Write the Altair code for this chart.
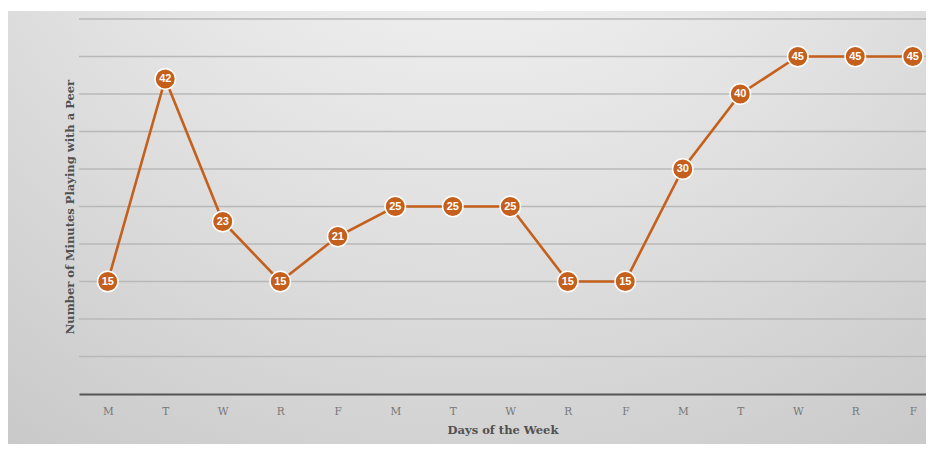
import altair as alt
import pandas as pd

days = ["M", "T", "W", "R", "F", "M", "T", "W", "R", "F", "M", "T", "W", "R", "F"]
minutes = [15, 42, 23, 15, 21, 25, 25, 25, 15, 15, 30, 40, 45, 45, 45]
grid_values = [5, 10, 15, 20, 25, 30, 35, 40, 45, 50]

df = pd.DataFrame({"idx": list(range(len(days))), "day": days, "minutes": minutes})
gdf = pd.DataFrame({"minutes": grid_values})

W, H = 847, 375
ORANGE = "#C5601C"
label_expr = "[" + ",".join("'%s'" % d for d in days) + "][datum.value]"

x_enc = alt.X("idx:Q", scale=alt.Scale(domain=[-0.5, 14.23], nice=False, zero=False),
              axis=alt.Axis(values=list(range(len(days))), labelExpr=label_expr, title="Days of the Week",
                            grid=False, ticks=False, domain=True, domainColor="#555555", domainWidth=2.2,
                            labelFont="DejaVu Serif", labelFontSize=10.5, labelColor="#777777",
                            labelPadding=12, titleFont="DejaVu Serif", titleFontSize=11.5,
                            titleFontWeight="bold", titleColor="#505050", titlePadding=8, zindex=1))
y_scale = alt.Scale(domain=[0, 50], nice=False)
y_axis = alt.Axis(labels=False, ticks=False, domain=False, grid=False,
                  title="Number of Minutes Playing with a Peer",
                  titleFont="DejaVu Serif", titleFontSize=11.5, titleFontWeight="bold",
                  titleColor="#505050", titlePadding=4, zindex=1)
y_enc = alt.Y("minutes:Q", scale=y_scale, axis=y_axis)

bg = alt.Chart(df).mark_rect(
    color=alt.Gradient(gradient="radial", x1=0.5, y1=0.0, r1=0.0, x2=0.5, y2=0.0, r2=1.0,
                       stops=[alt.GradientStop(offset=0, color="#fbfbfb"),
                              alt.GradientStop(offset=0.5, color="#e0e0e0"),
                              alt.GradientStop(offset=1, color="#c2c2c2")])
).encode(x=alt.value(-71), x2=alt.value(W + 10), y=alt.value(-8), y2=alt.value(H + 60))

grid = alt.Chart(gdf).mark_rule(color="#b8b8b8", strokeWidth=1.5).encode(
    y=y_enc, x=alt.value(0), x2=alt.value(W))

line = alt.Chart(df).mark_line(color=ORANGE, strokeWidth=2.6).encode(x=x_enc, y=y_enc)
pts = alt.Chart(df).mark_point(filled=True, shape="circle", size=420, color=ORANGE,
                               stroke="white", strokeWidth=1.5, opacity=1).encode(x="idx:Q", y="minutes:Q")
txt = alt.Chart(df).mark_text(color="white", font="Liberation Sans", fontSize=11,
                              fontWeight="bold").encode(x="idx:Q", y="minutes:Q", text="minutes:Q")

chart = alt.layer(bg, grid, line, pts, txt).properties(
    width=W, height=H, autosize="none",
    padding={"left": 71, "top": 11, "right": 0, "bottom": 50},
    background="white",
).configure_view(stroke=None)

chart.save("out.html", embed_options={"renderer": "svg", "actions": False})
